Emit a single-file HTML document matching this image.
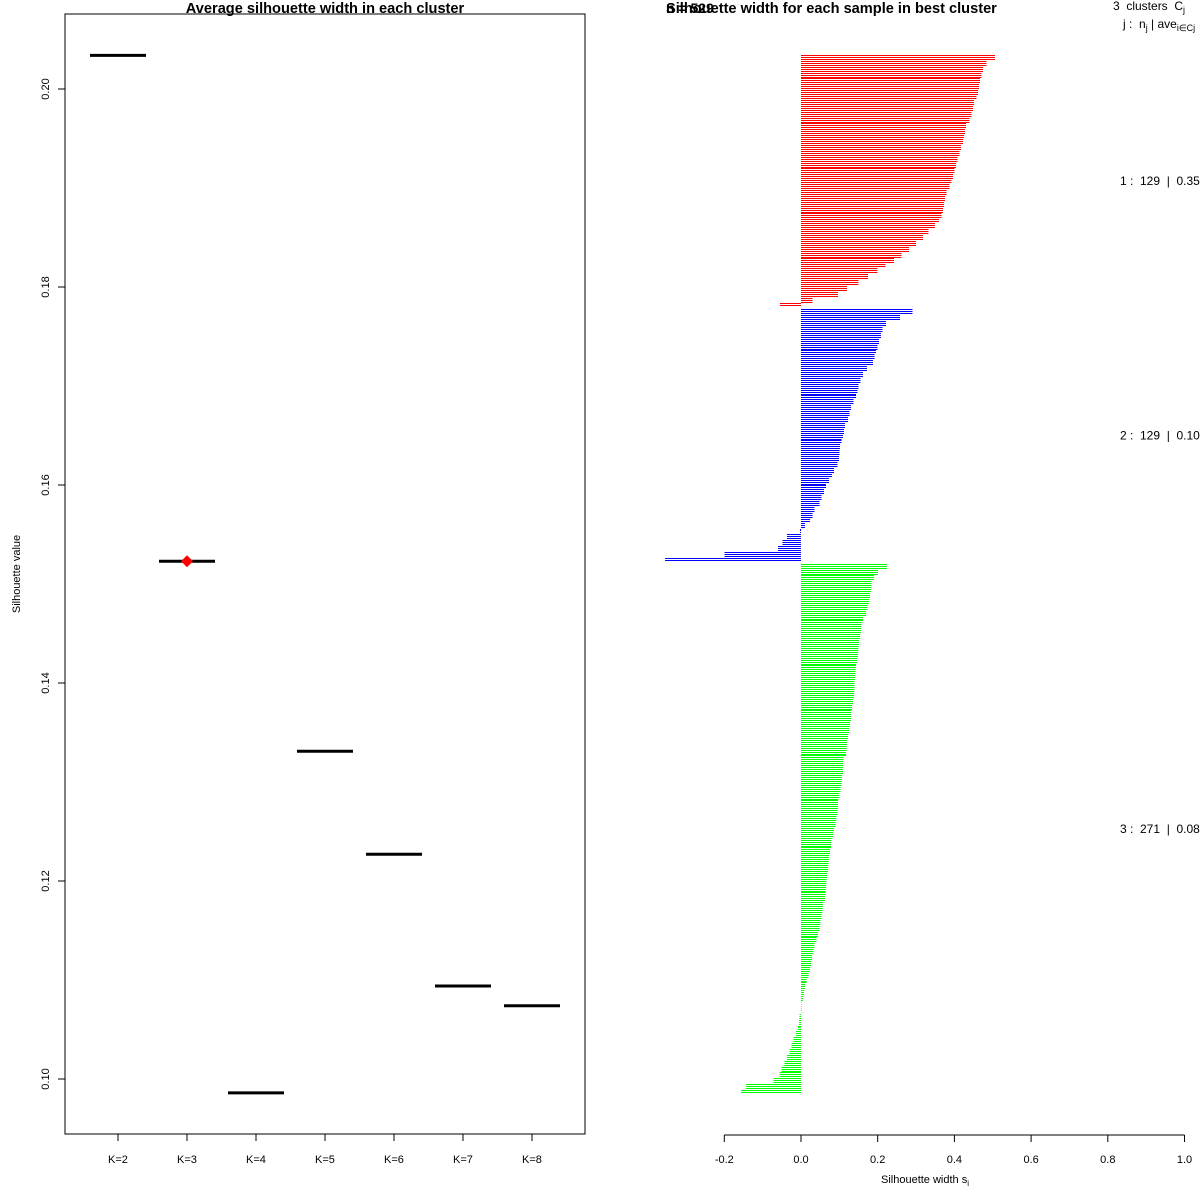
<!DOCTYPE html>
<html><head><meta charset="utf-8"><style>
html,body{margin:0;padding:0;background:#fff}
svg{display:block;font-family:"Liberation Sans",sans-serif}
text{white-space:pre}
</style></head><body>
<svg id="chart" width="1200" height="1200" viewBox="0 0 1200 1200" xmlns="http://www.w3.org/2000/svg">
<rect x="0" y="0" width="1200" height="1200" fill="#fff"/>
<g id="left">
<rect x="65" y="14" width="520" height="1120" fill="none" stroke="#000" stroke-width="1"/>
<text x="325" y="13" text-anchor="middle" font-size="14.6" font-weight="bold">Average silhouette width in each cluster</text>
<text transform="translate(20,574) rotate(-90)" text-anchor="middle" font-size="11">Silhouette value</text>
</g>
<g id="right">
<text x="666" y="13" font-size="14" font-weight="bold">n = 529</text>
<text x="666" y="13" font-size="14.6" font-weight="bold">Silhouette width for each sample in best cluster</text>
<text x="1113" y="10" font-size="12">3  clusters  C<tspan font-size="9" dy="3">j</tspan></text>
<text x="1123" y="28" font-size="12">j :  n<tspan font-size="9" dy="3">j</tspan><tspan dy="-3"> | ave</tspan><tspan font-size="9" dy="3">i∈Cj</tspan><tspan dy="-3">  s</tspan><tspan font-size="9" dy="3">i</tspan></text>
<text x="925" y="1183" text-anchor="middle" font-size="11">Silhouette width s<tspan font-size="8" dy="3">i</tspan></text>
</g>
</svg>
<script>
// Left panel data
const kLabels = ["K=2","K=3","K=4","K=5","K=6","K=7","K=8"];
const avgSil = [0.2034, 0.1523, 0.0986, 0.1331, 0.1227, 0.1094, 0.1074];
const bestK = 1;
const yTicks = [0.10, 0.12, 0.14, 0.16, 0.18, 0.20];
// Right panel data (each value represents a few samples, sorted within cluster)
const clusterSizes = [129, 129, 271];
const cl1 = [.506,.484,.475,.471,.467,.464,.461,.458,.451,.449,.445,.440,.430,.427,.425,.423,.417,.413,.408,.404,.400,.396,.392,.387,.380,.375,.373,.370,.366,.360,.350,.333,.318,.300,.282,.262,.242,.220,.200,.175,.150,.120,.096,.030,-.055];
const cl2 = [.291,.258,.222,.213,.208,.204,.199,.195,.192,.188,.172,.162,.155,.150,.147,.143,.137,.131,.126,.122,.115,.112,.110,.106,.102,.100,.099,.095,.086,.081,.073,.065,.060,.054,.048,.035,.030,.023,.010,-.003,-.037,-.048,-.060,-.200,-.355];
const cl3 = [.224,.201,.190,.184,.182,.180,.177,.174,.169,.162,.158,.157,.154,.151,.150,.149,.146,.143,.142,.141,.139,.139,.138,.136,.133,.131,.130,.128,.125,.122,.120,.119,.117,.111,.110,.109,.107,.105,.103,.100,.097,.096,.095,.093,.090,.086,.083,.080,.078,.076,.073,.072,.070,.068,.066,.065,.064,.062,.058,.056,.054,.051,.048,.044,.040,.035,.032,.029,.026,.023,.020,.014,.011,.008,.005,.001,0,-.004,-.005,-.008,-.013,-.019,-.025,-.030,-.037,-.043,-.051,-.056,-.072,-.143,-.156];
const clusterLabels = ["1 :  129  |  0.35","2 :  129  |  0.10","3 :  271  |  0.08"];
const xTicks = [-0.2,0,0.2,0.4,0.6,0.8,1.0];
const xTickLabels = ["-0.2","0.0","0.2","0.4","0.6","0.8","1.0"];

const NS="http://www.w3.org/2000/svg";
const svg=document.getElementById('chart');
function mk(tag,attrs,parent){const e=document.createElementNS(NS,tag);for(const k in attrs)e.setAttribute(k,attrs[k]);(parent||svg).appendChild(e);return e;}
const L=document.getElementById('left'), R=document.getElementById('right');

// left axes
const yL=v=>89+(0.20-v)*9900;
const xL=i=>118+i*69;
yTicks.forEach(t=>{
  const tk=mk('line',{x1:65,x2:58,y1:yL(t),y2:yL(t),stroke:'#000'},L);
  
  
  const tx=mk('text',{transform:`translate(49,${yL(t)}) rotate(-90)`,'text-anchor':'middle','font-size':11},L);
  
  
  tx.textContent=t.toFixed(2);
});
kLabels.forEach((k,i)=>{
  const tk=mk('line',{x1:xL(i),x2:xL(i),y1:1134,y2:1141,stroke:'#000'},L);
  
  
  const tx=mk('text',{x:xL(i),y:1163,'text-anchor':'middle','font-size':11},L);
  
  
  tx.textContent=k;
  const seg=mk('line',{x1:xL(i)-28,x2:xL(i)+28,y1:yL(avgSil[i]),y2:yL(avgSil[i]),stroke:'#000','stroke-width':3},L);
  
  
});
{
  const cx=xL(bestK), cy=yL(avgSil[bestK]);
  const d=mk('polygon',{points:`${cx},${cy-6} ${cx+6},${cy} ${cx},${cy+6} ${cx-6},${cy}`,fill:'#f00'},L);
  
  
}

// right panel
const xR=v=>801+v*383.5;
const gapSamples=1;
const clusters=[cl1,cl2,cl3];
const totalSamples=clusterSizes.reduce((a,b)=>a+b,0)+gapSamples*2;
const pitch=(1094-55)/totalSamples;
const colors=['#ff0000','#0000ff','#00ff00'];
let sIdx=0;
clusters.forEach((c,ci)=>{
  const g=mk('g',{'shape-rendering':'crispEdges'},R);
  
  
  const n=clusterSizes[ci];
  const y0=55+sIdx*pitch;
  for(let s=0;s<n;s++){
    const v=c[Math.min(c.length-1,Math.floor(s*c.length/n))];
    const y=Math.round(y0+s*pitch);
    const x0=Math.min(xR(0),xR(v)), w=Math.max(0.5,Math.abs(xR(v)-xR(0)));
    const b=mk('rect',{x:x0,y:y,width:w,height:1},g);
    b.style.fill=colors[ci];
    
    
  }
  const mid=y0+n*pitch/2;
  const t=mk('text',{x:1120,y:mid+4,'font-size':12},R);
  
  
  t.textContent=clusterLabels[ci];
  sIdx+=n+gapSamples;
});
const ax=mk('line',{x1:xR(-0.2),x2:xR(1.0),y1:1135,y2:1135,stroke:'#000'},R);


xTicks.forEach((t,i)=>{
  const tk=mk('line',{x1:xR(t),x2:xR(t),y1:1135,y2:1142,stroke:'#000'},R);
  
  
  const tx=mk('text',{x:xR(t),y:1163,'text-anchor':'middle','font-size':11},R);
  
  
  tx.textContent=xTickLabels[i];
});
</script>
</body></html>
